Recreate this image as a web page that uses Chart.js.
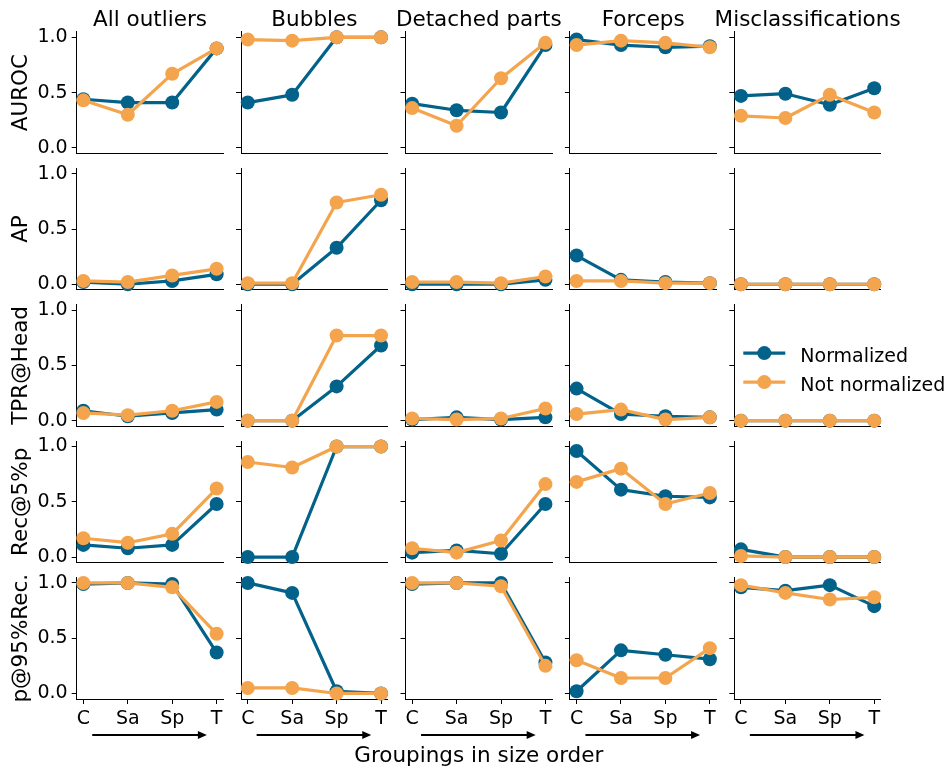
<!DOCTYPE html>
<html>
<head>
<meta charset="utf-8">
<script src="https://cdn.jsdelivr.net/npm/chart.js@4.4.1/dist/chart.umd.min.js"></script>
<style>
  html, body { margin: 0; padding: 0; background: #fff; overflow: hidden; }
  #grid { position: relative; width: 950px; height: 772px; overflow: hidden; background: #fff; }
  #grid canvas { position: absolute; }
</style>
</head>
<body>
<div id="grid"></div>
<script>
var groups = ['C', 'Sa', 'Sp', 'T'];
var outlierTypes = ['All outliers', 'Bubbles', 'Detached parts', 'Forceps', 'Misclassifications'];
var metrics = ['AUROC', 'AP', 'TPR@Head', 'Rec@5%p', 'p@95%Rec.'];
var seriesNames = ['Normalized', 'Not normalized'];
var yTicks = [0, 0.5, 1];
var xLabel = 'Groupings in size order';

// one row per outlier type, one value per grouping (C, Sa, Sp, T)
var aurocNorm = [
  [0.44, 0.41, 0.41, 0.90],
  [0.41, 0.48, 1.00, 1.00],
  [0.40, 0.34, 0.32, 0.93],
  [0.98, 0.93, 0.91, 0.92],
  [0.47, 0.49, 0.39, 0.54]
];
var aurocNotNorm = [
  [0.43, 0.30, 0.67, 0.90],
  [0.98, 0.97, 1.00, 1.00],
  [0.36, 0.20, 0.63, 0.95],
  [0.93, 0.97, 0.95, 0.91],
  [0.29, 0.27, 0.48, 0.32]
];
var apNorm = [
  [0.02, 0.00, 0.03, 0.09],
  [0.00, 0.00, 0.33, 0.76],
  [0.00, 0.00, 0.00, 0.04],
  [0.26, 0.04, 0.02, 0.01],
  [0.00, 0.00, 0.00, 0.00]
];
var apNotNorm = [
  [0.03, 0.02, 0.08, 0.14],
  [0.01, 0.01, 0.74, 0.81],
  [0.02, 0.02, 0.01, 0.07],
  [0.03, 0.03, 0.01, 0.01],
  [0.00, 0.00, 0.00, 0.00]
];
var tprNorm = [
  [0.09, 0.04, 0.07, 0.10],
  [0.00, 0.00, 0.31, 0.68],
  [0.01, 0.03, 0.01, 0.03],
  [0.29, 0.06, 0.04, 0.03],
  [0.00, 0.00, 0.00, 0.00]
];
var tprNotNorm = [
  [0.07, 0.05, 0.09, 0.17],
  [0.00, 0.00, 0.77, 0.77],
  [0.02, 0.01, 0.02, 0.11],
  [0.06, 0.10, 0.01, 0.03],
  [0.00, 0.00, 0.00, 0.00]
];
var recNorm = [
  [0.11, 0.08, 0.11, 0.48],
  [0.00, 0.00, 1.00, 1.00],
  [0.04, 0.06, 0.03, 0.48],
  [0.96, 0.61, 0.55, 0.54],
  [0.07, 0.00, 0.00, 0.00]
];
var recNotNorm = [
  [0.17, 0.13, 0.21, 0.62],
  [0.86, 0.81, 1.00, 1.00],
  [0.08, 0.04, 0.15, 0.66],
  [0.68, 0.80, 0.48, 0.58],
  [0.01, 0.00, 0.00, 0.00]
];
var precNorm = [
  [0.99, 1.00, 0.99, 0.37],
  [1.00, 0.91, 0.02, 0.00],
  [0.99, 1.00, 1.00, 0.28],
  [0.02, 0.39, 0.35, 0.31],
  [0.96, 0.93, 0.98, 0.79]
];
var precNotNorm = [
  [1.00, 1.00, 0.96, 0.54],
  [0.05, 0.05, 0.00, 0.00],
  [1.00, 1.00, 0.97, 0.25],
  [0.30, 0.14, 0.14, 0.41],
  [0.98, 0.91, 0.85, 0.87]
];

var normByMetric = [aurocNorm, apNorm, tprNorm, recNorm, precNorm];
var notNormByMetric = [aurocNotNorm, apNotNorm, tprNotNorm, recNotNorm, precNotNorm];

var BLUE = '#02628a';
var ORANGE = '#f4a44c';

Chart.defaults.font.family = "'DejaVu Sans', sans-serif";
Chart.defaults.font.size = 19;
Chart.defaults.color = '#000';

// plot area of each panel (px in the 950x772 page)
var AW = 146.6, AH = 121.6;
function areaLeft(c) { return 76.7 + 164.4 * c; }
function areaTop(r) { return 31.8 + 136.4 * r; }

// arrow under the grouping ticks
var arrowPlugin = {
  id: 'sizeArrow',
  afterDraw: function (chart, args, opts) {
    if (!opts.show) return;
    var xs = chart.scales.x, ctx = chart.ctx;
    var x0 = xs.getPixelForValue(0.2), x1 = xs.getPixelForValue(2.78);
    var y = chart.chartArea.bottom + 36;
    ctx.save();
    ctx.strokeStyle = '#000';
    ctx.fillStyle = '#000';
    ctx.lineWidth = 2;
    ctx.beginPath();
    ctx.moveTo(x0, y);
    ctx.lineTo(x1 - 6, y);
    ctx.stroke();
    ctx.beginPath();
    ctx.moveTo(x1, y);
    ctx.lineTo(x1 - 9, y - 4);
    ctx.lineTo(x1 - 9, y + 4);
    ctx.closePath();
    ctx.fill();
    ctx.restore();
  }
};

// column titles and the shared x label, centred on the plot area
var labelPlugin = {
  id: 'panelLabel',
  afterDraw: function (chart, args, opts) {
    if (!opts.text) return;
    var a = chart.chartArea, ctx = chart.ctx;
    ctx.save();
    ctx.fillStyle = '#000';
    ctx.font = "21.5px 'DejaVu Sans'";
    ctx.textAlign = 'center';
    ctx.textBaseline = 'alphabetic';
    var y = opts.below ? a.bottom + opts.offset : a.top - opts.offset;
    ctx.fillText(opts.text, (a.left + a.right) / 2, y);
    ctx.restore();
  }
};

// line + marker legend, like the matplotlib one
var keyPlugin = {
  id: 'seriesKey',
  afterDraw: function (chart, args, opts) {
    if (!opts.show) return;
    var ctx = chart.ctx, a = chart.chartArea;
    chart.data.datasets.forEach(function (ds, i) {
      var x = a.left + 9;
      var y = a.top + 48.5 + i * 29;
      ctx.save();
      ctx.strokeStyle = ds.borderColor;
      ctx.lineWidth = ds.borderWidth;
      ctx.beginPath();
      ctx.moveTo(x, y);
      ctx.lineTo(x + 42, y);
      ctx.stroke();
      ctx.fillStyle = ds.pointBackgroundColor;
      ctx.beginPath();
      ctx.arc(x + 21, y, ds.pointRadius, 0, Math.PI * 2);
      ctx.fill();
      ctx.fillStyle = '#000';
      ctx.font = "19px 'DejaVu Sans'";
      ctx.textBaseline = 'alphabetic';
      ctx.fillText(ds.label, x + 57, y + 8.5);
      ctx.restore();
    });
  }
};

function series(label, vals, color, order) {
  return {
    label: label,
    data: vals.map(function (v, i) { return {x: i, y: v}; }),
    borderColor: color,
    backgroundColor: color,
    pointBackgroundColor: color,
    pointBorderColor: color,
    pointBorderWidth: 0,
    pointRadius: 7,
    borderWidth: 3.2,
    borderJoinStyle: 'round',
    borderCapStyle: 'round',
    clip: false,
    order: order
  };
}

// no extra room for overflowing tick labels: the plot area is fixed
function noPadding(s) {
  s.paddingTop = 0;
  s.paddingBottom = 0;
  s.paddingLeft = 0;
  s.paddingRight = 0;
}

function makePanel(r, c) {
  var al = areaLeft(c), at = areaTop(r), ab = at + AH;
  var yw = c === 0 ? al : 16;
  var cl = c === 0 ? 0 : Math.round(al - 80);
  var cw = c === 0 ? Math.round(2 * al + AW) : Math.round(160 + AW);
  var padL = al - cl - yw;
  var padR = cw - (al - cl) - AW;
  var ct = r === 0 ? 0 : Math.round(at - 12);
  var padT = at - ct;
  var ch, xh, padB;
  if (r < 4) {
    ch = Math.round(ab + 10 - ct);
    xh = 1;
    padB = ch - (at - ct) - AH - xh;
  } else {
    ch = 772 - ct;
    xh = 772 - ab;
    padB = 0;
  }

  var label = {};
  if (r === 0) label = { text: outlierTypes[c], offset: 5.8, below: false };
  else if (r === 4 && c === 2) label = { text: xLabel, offset: 63, below: true };

  var cv = document.createElement('canvas');
  cv.width = cw;
  cv.height = ch;
  cv.style.left = cl + 'px';
  cv.style.top = ct + 'px';
  document.getElementById('grid').appendChild(cv);

  new Chart(cv.getContext('2d'), {
    type: 'line',
    data: {
      datasets: [
        series(seriesNames[0], normByMetric[r][c], BLUE, 1),
        series(seriesNames[1], notNormByMetric[r][c], ORANGE, 0)
      ]
    },
    plugins: [arrowPlugin, keyPlugin, labelPlugin],
    options: {
      responsive: false,
      devicePixelRatio: 1,
      animation: false,
      events: [],
      layout: { autoPadding: false, padding: { left: padL, right: padR, top: padT, bottom: padB } },
      plugins: {
        legend: { display: false },
        tooltip: { enabled: false },
        title: { display: false },
        sizeArrow: { show: r === 4 },
        seriesKey: { show: r === 2 && c === 4 },
        panelLabel: label
      },
      scales: {
        x: {
          type: 'linear', min: -0.15, max: 3.15,
          afterBuildTicks: function (s) { s.ticks = groups.map(function (g, i) { return {value: i}; }); },
          afterFit: function (s) { s.height = xh; noPadding(s); },
          grid: { display: r === 4, drawOnChartArea: false, tickLength: 5, tickColor: '#000', tickWidth: 1 },
          border: { display: true, color: '#000', width: 1 },
          ticks: {
            display: r === 4, padding: 4, maxRotation: 0, autoSkip: false, color: '#000',
            font: { size: 19 },
            callback: function (v) { return groups[v]; }
          }
        },
        y: {
          type: 'linear', min: -0.05, max: 1.05,
          afterBuildTicks: function (s) { s.ticks = yTicks.map(function (v) { return {value: v}; }); },
          afterFit: function (s) { s.width = yw; noPadding(s); },
          grid: { drawOnChartArea: false, tickLength: 5, tickColor: '#000', tickWidth: 1 },
          border: { display: true, color: '#000', width: 1 },
          ticks: {
            display: c === 0, padding: 4, color: '#000', font: { size: 19 },
            callback: function (v) { return v.toFixed(1); }
          },
          title: {
            display: c === 0, text: metrics[r], color: '#000',
            font: { size: 21.5, lineHeight: 1.2 },
            padding: { top: 8.8, bottom: 0 }
          }
        }
      }
    }
  });
}

for (var r = 0; r < metrics.length; r++) {
  for (var c = 0; c < outlierTypes.length; c++) {
    makePanel(r, c);
  }
}
</script>
</body>
</html>
